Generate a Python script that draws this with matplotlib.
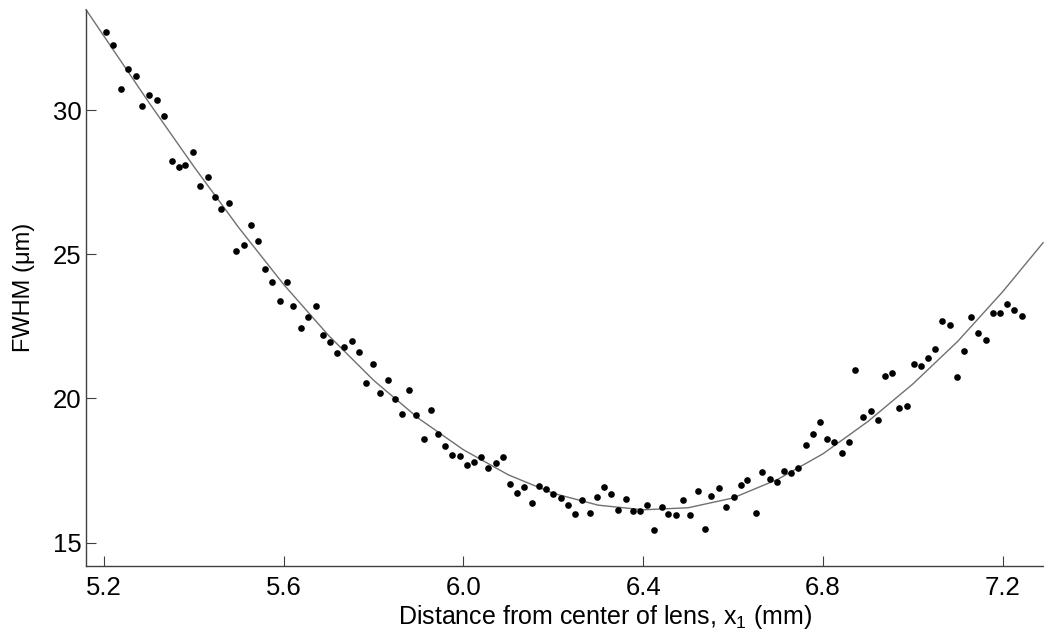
import matplotlib
matplotlib.use("Agg")
import matplotlib.pyplot as plt

plt.rcParams['font.family'] = ['Liberation Sans', 'DejaVu Sans']
plt.rcParams['mathtext.fontset'] = 'custom'
plt.rcParams['mathtext.rm'] = 'Liberation Sans'

# measured points: distance from lens centre (mm) and FWHM (um)
x_pos = [5.204, 5.221, 5.238, 5.253, 5.271, 5.285, 5.301, 5.318, 5.334, 5.351,
         5.366, 5.381, 5.398, 5.414, 5.431, 5.446, 5.461, 5.479, 5.494, 5.511,
         5.527, 5.542, 5.558, 5.575, 5.592, 5.607, 5.621, 5.639, 5.655, 5.672,
         5.687, 5.702, 5.719, 5.735, 5.752, 5.767, 5.782, 5.799, 5.815, 5.832,
         5.847, 5.863, 5.879, 5.895, 5.912, 5.928, 5.943, 5.960, 5.975, 5.992,
         6.008, 6.024, 6.040, 6.055, 6.072, 6.088, 6.104, 6.120, 6.135, 6.153,
         6.168, 6.183, 6.200, 6.216, 6.233, 6.248, 6.264, 6.281, 6.297, 6.313,
         6.328, 6.345, 6.361, 6.377, 6.393, 6.409, 6.425, 6.441, 6.456, 6.472,
         6.489, 6.504, 6.521, 6.537, 6.552, 6.569, 6.584, 6.602, 6.617, 6.632,
         6.650, 6.665, 6.682, 6.697, 6.713, 6.730, 6.745, 6.762, 6.777, 6.793,
         6.810, 6.825, 6.843, 6.858, 6.872, 6.890, 6.906, 6.923, 6.938, 6.953,
         6.970, 6.986, 7.003, 7.018, 7.034, 7.050, 7.066, 7.083, 7.098, 7.113,
         7.130, 7.146, 7.163, 7.178, 7.194, 7.210, 7.226, 7.243]
fwhm = [32.69, 32.25, 30.73, 31.43, 31.17, 30.15, 30.53, 30.36, 29.78, 28.22,
        28.02, 28.09, 28.53, 27.35, 27.69, 26.97, 26.57, 26.78, 25.12, 25.32,
        26.03, 25.46, 24.48, 24.04, 23.39, 24.04, 23.19, 22.44, 22.81, 23.19,
        22.20, 21.97, 21.56, 21.77, 22.00, 21.62, 20.54, 21.19, 20.19, 20.65,
        19.97, 19.47, 20.28, 19.42, 18.59, 19.60, 18.76, 18.35, 18.05, 18.01,
        17.71, 17.81, 17.98, 17.58, 17.77, 17.98, 17.03, 16.72, 16.94, 16.36,
        16.96, 16.86, 16.70, 16.56, 16.32, 15.98, 16.49, 16.02, 16.59, 16.93,
        16.70, 16.12, 16.52, 16.09, 16.09, 16.29, 15.45, 16.24, 15.98, 15.95,
        16.49, 15.95, 16.79, 15.47, 16.62, 16.89, 16.22, 16.60, 17.00, 17.17,
        16.02, 17.44, 17.22, 17.09, 17.47, 17.43, 17.59, 18.38, 18.76, 19.20,
        18.58, 18.48, 18.11, 18.49, 20.98, 19.36, 19.56, 19.26, 20.78, 20.89,
        19.66, 19.74, 21.19, 21.12, 21.39, 21.73, 22.68, 22.53, 20.75, 21.63,
        22.81, 22.27, 22.04, 22.95, 22.95, 23.28, 23.05, 22.85]

# fitted curve
fit_x = [5.16, 5.2, 5.3, 5.4, 5.5, 5.6, 5.7, 5.8, 5.9, 6.0, 6.1, 6.2,
         6.3, 6.4, 6.5, 6.6, 6.7, 6.8, 6.9, 7.0, 7.1, 7.2, 7.29]
fit_y = [33.48, 32.56, 30.26, 28.04, 25.92, 23.95, 22.18, 20.63, 19.31, 18.22, 17.35, 16.71,
         16.30, 16.14, 16.21, 16.55, 17.20, 18.08, 19.20, 20.50, 21.98, 23.70, 25.40]

x_ticks = [5.2, 5.6, 6.0, 6.4, 6.8, 7.2]
x_labels = ['5.2', '5.6', '6.0', '6.4', '6.8', '7.2']
y_ticks = [15, 20, 25, 30]

fig = plt.figure(figsize=(10.44, 6.39), dpi=100)
ax = fig.add_axes([0.0824, 0.1142, 0.9176, 0.8709])

ax.plot(fit_x, fit_y, color='#707070', lw=1.0, clip_on=False)
ax.plot(x_pos, fwhm, 'o', color='black', ms=4.8, mew=0)

ax.set_xlim(5.16, 7.292)
ax.set_ylim(14.19, 33.485)
ax.set_xticks(x_ticks)
ax.set_xticklabels(x_labels)
ax.set_yticks(y_ticks)

for side in ['top', 'right']:
    ax.spines[side].set_visible(False)
for side in ['left', 'bottom']:
    ax.spines[side].set_color('#404040')
    ax.spines[side].set_linewidth(1.0)

ax.tick_params(direction='in', length=7, width=0.8, color='#404040',
               labelsize=18.5)
ax.tick_params(axis='x', pad=7)
ax.tick_params(axis='y', pad=3)

ax.set_xlabel(r'Distance from center of lens, x$_\mathregular{1}$ (mm)', fontsize=18, labelpad=2)
ax.xaxis.label.set_x(0.5418)
ax.set_ylabel('FWHM (\u03bcm)', fontsize=17)
ax.yaxis.set_label_coords(-0.053, 0.5)

fig.savefig('out.png', dpi=100)
